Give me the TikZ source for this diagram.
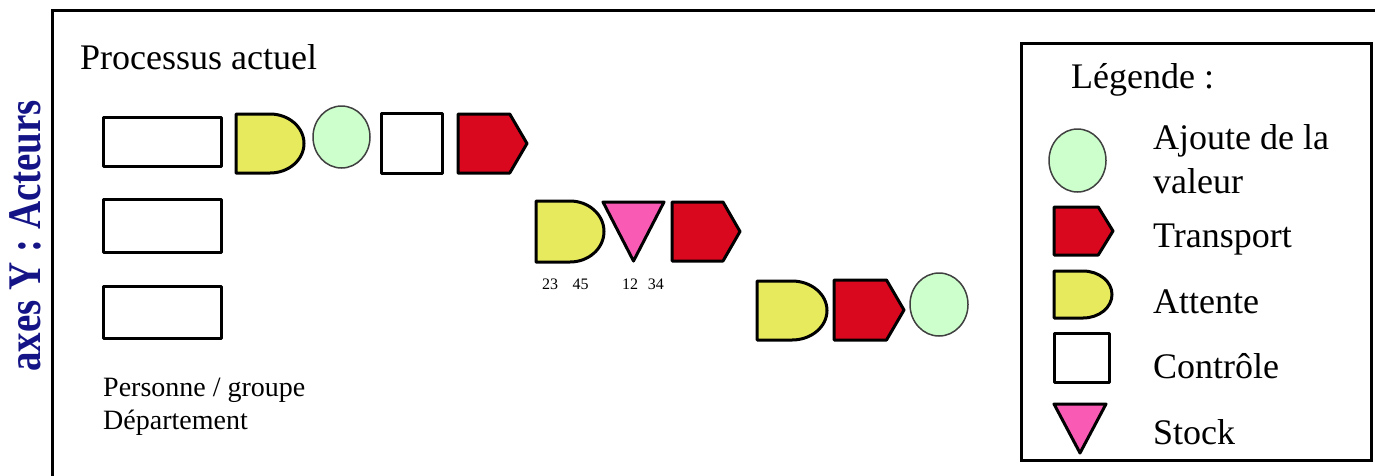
\documentclass[tikz,border=0pt]{standalone}
\usepackage{fontspec}
\setmainfont{Liberation Serif}
\usetikzlibrary{shapes.geometric}
\definecolor{attY}{RGB}{232,234,94}
\definecolor{trpR}{RGB}{217,8,30}
\definecolor{stkP}{RGB}{248,90,180}
\definecolor{valG}{RGB}{204,255,204}
\definecolor{axisB}{RGB}{20,20,135}
\newcommand\attShape[4]{\draw[att] (#1,#2) -- ++({#3/2},0) .. controls +({0.276*#3},0) and +(0,{-0.276*#4}) .. ++({#3/2},{#4/2}) .. controls +(0,{0.276*#4}) and +({0.276*#3},0) .. ++({-#3/2},{#4/2}) -- ++({-#3/2},0) -- cycle;}
\newcommand\trpShape[4]{\draw[trp] (#1,#2) -- ++({0.75*#3},0) -- ++({0.25*#3},{#4/2}) -- ++({-0.25*#3},{#4/2}) -- ++({-0.75*#3},0) -- cycle;}
\newcommand\stkShape[4]{\draw[stk] (#1,#2) -- ++(#3,0) -- ++({-#3/2},#4) -- cycle;}
\tikzset{
  shp/.style={draw=black, line width=3pt, line join=round},
  att/.style={shp, fill=attY},
  trp/.style={shp, fill=trpR},
  stk/.style={shp, fill=stkP},
  ctl/.style={shp, fill=white, inner sep=0pt},
  val/.style={ellipse, draw=black!75, line width=1.5pt, fill=valG, inner sep=0pt},
  lbl/.style={anchor=base west, inner sep=0pt, font=\fontsize{36}{40}\selectfont},
  small/.style={anchor=base west, inner sep=0pt, font=\fontsize{28}{32}\selectfont},
  tiny/.style={anchor=base west, inner sep=0pt, font=\fontsize{16}{18}\selectfont},
}
\begin{document}
\begin{tikzpicture}[x=1pt,y=-1pt]
\useasboundingbox (0,0) rectangle (1375,475);
% outer frame
\draw[line width=3pt] (52,480) -- (52,10) -- (1380,10);
% axis label
\node[anchor=base west, inner sep=0pt, rotate=90, text=axisB, font=\fontsize{39}{42}\selectfont\bfseries] (axis) at (40,372) {\scalebox{1}[1.2]{axes Y : Acteurs}};
\node[lbl] (title) at (80,69) {Processus actuel};
% actor rectangles
\node[ctl, minimum width=118pt, minimum height=49pt] (r1) at (162,141.5) {};
\node[ctl, minimum width=118pt, minimum height=53pt] (r2) at (162,225.5) {};
\node[ctl, minimum width=118pt, minimum height=52pt] (r3) at (162,312) {};
\node[small] (pers) at (103,396) {Personne / groupe};
\node[small] (dept) at (103,429) {Département};
% row 1
\attShape{236}{114}{68}{59}
\node[val, minimum width=57pt, minimum height=62pt] (v1) at (341.5,137) {};
\node[ctl, minimum width=61pt, minimum height=60pt] (c1) at (411.5,143) {};
\trpShape{458}{114}{69}{59}
% row 2
\attShape{536}{201}{68}{61}
\stkShape{603}{202}{61}{59}
\trpShape{672}{202}{68}{59}
\node[tiny] (n1) at (542,289) {23\hspace{0.9em}45};
\node[tiny] (n2) at (622,289) {12\hspace{0.6em}34};
% row 3
\attShape{757}{281}{70}{59}
\trpShape{834}{280}{70}{60}
\node[val, minimum width=58pt, minimum height=63pt] (v3) at (939,304.5) {};
% legend
\draw[line width=3pt] (1021,43) rectangle (1371,460);
\node[lbl] (leg) at (1071,88) {Légende :};
\node[val, minimum width=57pt, minimum height=63pt] (lv) at (1077.5,160.5) {};
\node[lbl] (lvt1) at (1153,149) {Ajoute de la};
\node[lbl] (lvt2) at (1153,193) {valeur};
\trpShape{1054}{207}{59}{48}
\node[lbl] (ltt) at (1153,247) {Transport};
\attShape{1054}{271}{58}{47}
\node[lbl] (lat) at (1153,313) {Attente};
\node[ctl, minimum width=55pt, minimum height=49pt] (lc) at (1081.5,357.5) {};
\node[lbl] (lct) at (1153,378) {Contrôle};
\stkShape{1054}{404}{52}{49}
\node[lbl] (lst) at (1153,444) {Stock};
\end{tikzpicture}
\end{document}
